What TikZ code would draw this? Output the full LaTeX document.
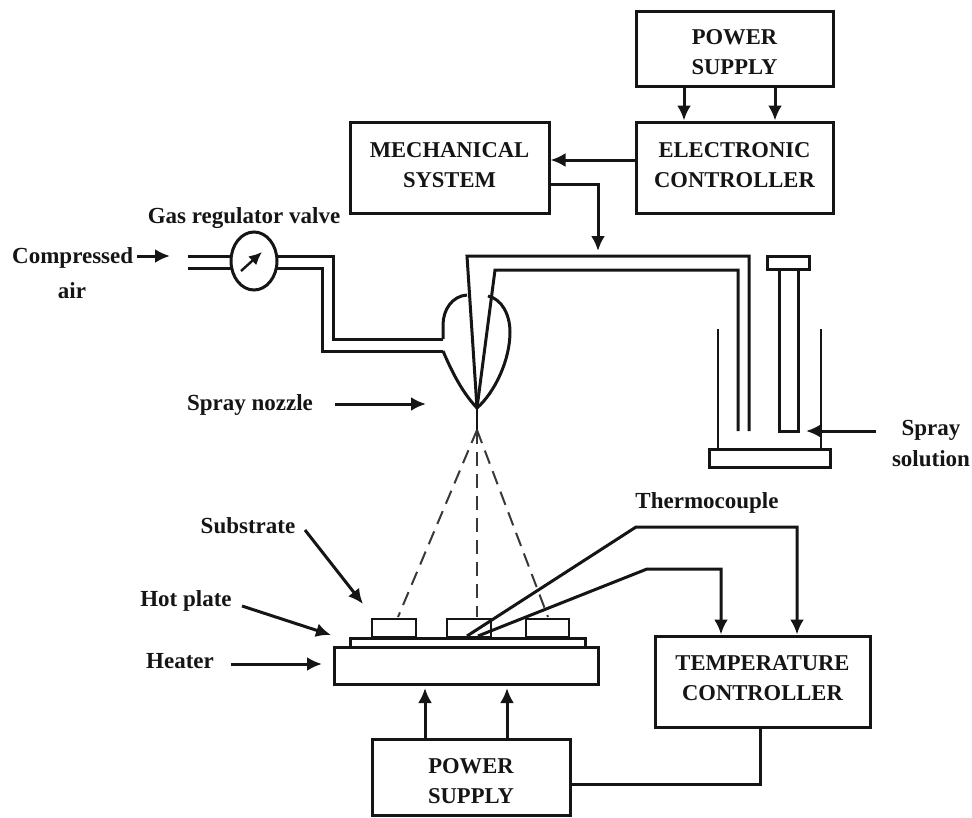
\documentclass[tikz,border=0pt]{standalone}
\usepackage{fontspec}
\setmainfont{Liberation Serif}
\usetikzlibrary{arrows.meta,shapes.geometric}
\definecolor{ink}{HTML}{151515}
\tikzset{
  box/.style={draw=ink,line width=3pt,fill=white,inner sep=0pt},
  boxtext/.style={inner sep=0pt,align=center,text=ink,font=\fontsize{22.6}{30}\selectfont\bfseries},
  lab/.style={inner sep=0pt,align=center,text=ink,font=\fontsize{23}{31}\selectfont\bfseries},
  line/.style={draw=ink,line width=3pt,line join=miter},
  thin line/.style={draw=ink,line width=2.4pt},
  arr/.style={line,-{Latex[length=15pt,width=14pt]}},
  dash line/.style={draw=ink!85,line width=2pt,dash pattern=on 14pt off 8pt},
}
\begin{document}
\begin{tikzpicture}[x=1pt,y=-1pt]
\useasboundingbox (0,0) rectangle (972,817);
% boxes
\node[box,minimum width=197pt,minimum height=75pt,label={[boxtext,yshift=-3.5pt]center:POWER\\SUPPLY}] (ps1) at (734.5,48.5) {};
\node[box,minimum width=197pt,minimum height=91pt,label={[boxtext,yshift=2pt]center:ELECTRONIC\\CONTROLLER}] (ec) at (734.5,167.5) {};
\node[box,minimum width=199pt,minimum height=91pt,label={[boxtext,yshift=2pt]center:MECHANICAL\\SYSTEM}] (ms) at (449.5,167.5) {};
\node[box,minimum width=215pt,minimum height=91pt,label={[boxtext,yshift=3pt]center:TEMPERATURE\\CONTROLLER}] (tc) at (762.5,681.5) {};
\node[box,minimum width=198pt,minimum height=76pt,label={[boxtext,yshift=-4pt]center:POWER\\SUPPLY}] (ps2) at (471,777) {};
% top arrows
\draw[arr] (ps1.south -| 684,0) -- (ec.north -| 684,0);
\draw[arr] (ps1.south -| 775,0) -- (ec.north -| 775,0);
\draw[arr] (ec.west |- 0,160) -- (ms.east |- 0,160);
\coordinate (feed) at (598,251);
\draw[arr] (ms.east |- 0,184) -| (feed);
% air
\node[lab,anchor=west] (air) at (12,258) {Compressed};
\node[lab] (air2) at (72,291) {air};
\node[lab] (grv) at (244,218) {Gas regulator valve};
\node[draw=ink,line width=3pt,ellipse,minimum width=46pt,minimum height=58pt,inner sep=0pt,fill=white] (valve) at (254,261) {};
\coordinate (a1) at (137,256); \coordinate (a2) at (170,256);
\draw[arr] (a1) -- (a2);
\coordinate (vn) at (241,271); \coordinate (vx) at (262,252);
\draw[line,line width=2.4pt,-{Latex[length=13pt,width=12pt]}] (vn) -- (vx);
\draw[line] (188,256) -- (231,256);
\draw[line] (188,268) -- (231,268);
\draw[line] (277,256) -- (333,256) -- (333,339) -- (443,339);
\draw[line] (277,268) -- (322,268) -- (322,351) -- (443,351);
% nozzle
\draw[line] (467,295) .. controls (452,296) and (443,310) .. (443,325) -- (443,339);
\draw[line] (443,351) .. controls (452,372) and (462,392) .. (477,408);
\draw[line] (488,296) .. controls (502,299) and (510,315) .. (510,332) .. controls (510,360) and (495,392) .. (477,408);
\draw[line] (749,431) -- (749,256) -- (467,256) -- (477,408);
\draw[line] (738,431) -- (738,270) -- (495,270) -- (477,408);
\draw[line,line width=2pt] (477,408) -- (477,430);
% spray nozzle
\node[lab] (sn) at (250,405) {Spray nozzle};
\coordinate (sna) at (335,404); \coordinate (snb) at (426,404);
\draw[arr] (sna) -- (snb);
% reservoir
\draw[line] (767,256) rectangle (809,269);
\draw[line] (779,269) -- (779,431) -- (798,431) -- (798,269);
\draw[thin line] (718,329) -- (718,449);
\draw[thin line] (821,329) -- (821,449);
\draw[line] (709,449) rectangle (830,467);
\coordinate (ssa) at (876,431); \coordinate (ssb) at (806,431);
\draw[arr] (ssa) -- (ssb);
\node[lab] (ss) at (931,444) {Spray\\solution};
% spray cone
\coordinate (apex) at (477,430);
\draw[dash line] (apex) -- (398,617);
\draw[dash line] (apex) -- (477,617);
\draw[dash line] (apex) -- (548,617);
% plate
\draw[line] (334,647) rectangle (598,684);
\draw[line] (350,638) rectangle (585,647);
\draw[line,line width=2.2pt] (372,619) rectangle (416,637);
\draw[line,line width=2.2pt] (447,619) rectangle (491,637);
\draw[line,line width=2.2pt] (526,619) rectangle (569,637);
% thermocouple
\node[lab] (th) at (707,503) {Thermocouple};
\draw[arr] (467,636) -- (636,527) -- (797,527) -- (tc.north -| 797,0);
\draw[arr] (478,636) -- (647,569) -- (721,569) -- (tc.north -| 721,0);
% power
\draw[arr] (ps2.north -| 425,0) -- (425,688);
\draw[arr] (ps2.north -| 507,0) -- (507,688);
\draw[line] (ps2.east |- 0,784) -| (tc.south -| 760,0);
% left labels
\node[lab] (sub) at (248,526) {Substrate};
\coordinate (sa) at (305,530); \coordinate (sb) at (363,604);
\draw[arr] (sa) -- (sb);
\node[lab] (hp) at (186,601) {Hot plate};
\coordinate (hpa) at (242,606); \coordinate (hpb) at (331,635);
\draw[arr] (hpa) -- (hpb);
\node[lab] (ht) at (180,661) {Heater};
\coordinate (hta) at (231,664); \coordinate (htb) at (322,664);
\draw[arr] (hta) -- (htb);
\end{tikzpicture}
\end{document}
